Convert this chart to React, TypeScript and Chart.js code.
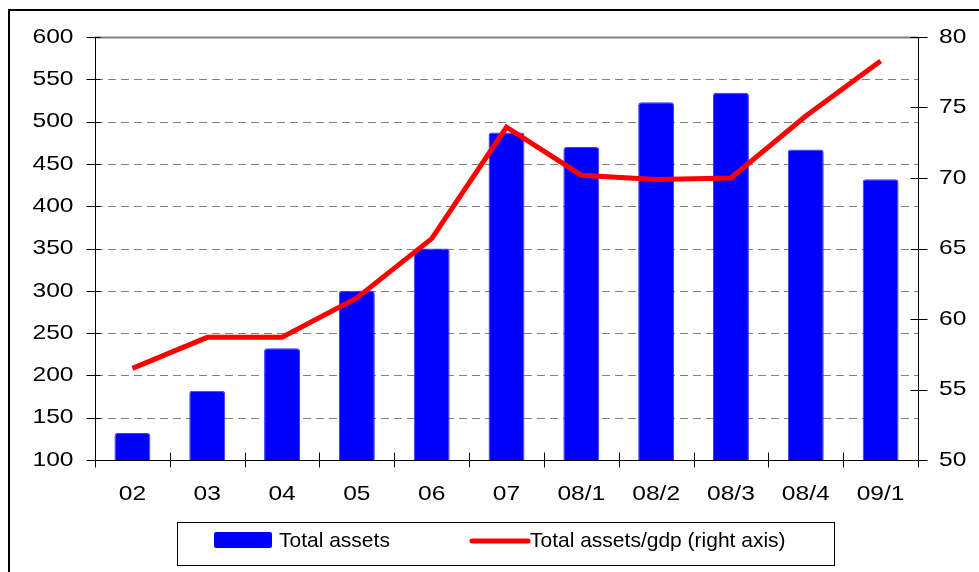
import React, { useEffect, useRef } from "react";
import { Chart, registerables } from "chart.js";

Chart.register(...registerables);

const categories = ["02", "03", "04", "05", "06", "07", "08/1", "08/2", "08/3", "08/4", "09/1"];
const totalAssets = [132, 182, 232, 300, 350, 487, 470, 523, 534, 467, 432];
const assetsToGdp = [56.5, 58.7, 58.7, 61.5, 65.7, 73.6, 70.2, 69.9, 70.0, 74.4, 78.3];
const leftTicks = { min: 100, max: 600, step: 50 };
const rightTicks = { min: 50, max: 80, step: 5 };
const legendLabels = ["Total assets", "Total assets/gdp (right axis)"];

const FONT = "'Liberation Sans', Arial, sans-serif";
const STRETCH = 1.17;

function stretchedText(ctx: CanvasRenderingContext2D, text: string, x: number, y: number, align: CanvasTextAlign) {
  ctx.save();
  ctx.translate(x, y);
  ctx.scale(STRETCH, 1);
  ctx.textAlign = align;
  ctx.textBaseline = "middle";
  ctx.fillText(text, 0, 0);
  ctx.restore();
}

const customDraw = {
  id: "customDraw",
  beforeDatasetsDraw(chart: any) {
    const { ctx, chartArea } = chart;
    const y = chart.scales.y;
    ctx.save();
    for (let v = leftTicks.min + leftTicks.step; v <= leftTicks.max; v += leftTicks.step) {
      const py = Math.round(y.getPixelForValue(v)) + 0.5;
      ctx.beginPath();
      ctx.strokeStyle = "#808080";
      if (v === leftTicks.max) {
        ctx.setLineDash([]);
        ctx.lineWidth = 2;
      } else {
        ctx.setLineDash([8, 5]);
        ctx.lineWidth = 1;
      }
      ctx.moveTo(chartArea.left, py);
      ctx.lineTo(chartArea.right, py);
      ctx.stroke();
    }
    ctx.restore();
  },
  afterDatasetsDraw(chart: any) {
    const { ctx, chartArea } = chart;
    const y = chart.scales.y;
    const y1 = chart.scales.y1;
    const x = chart.scales.x;
    ctx.save();
    ctx.setLineDash([]);
    ctx.strokeStyle = "#000";
    ctx.lineWidth = 1;
    const L = Math.round(chartArea.left) + 0.5;
    const R = Math.round(chartArea.right) + 0.5;
    const B = Math.round(chartArea.bottom) + 0.5;
    const T = Math.round(chartArea.top);
    ctx.beginPath();
    ctx.moveTo(L, T);
    ctx.lineTo(L, B);
    ctx.moveTo(R, T);
    ctx.lineTo(R, B);
    ctx.moveTo(L, B);
    ctx.lineTo(R, B);
    for (let v = leftTicks.min; v <= leftTicks.max; v += leftTicks.step) {
      const py = Math.round(y.getPixelForValue(v)) + 0.5;
      ctx.moveTo(L - 9, py);
      ctx.lineTo(L + 5, py);
    }
    for (let v = rightTicks.min; v <= rightTicks.max; v += rightTicks.step) {
      const py = Math.round(y1.getPixelForValue(v)) + 0.5;
      ctx.moveTo(R - 8, py);
      ctx.lineTo(R + 9, py);
    }
    const n = categories.length;
    const w = (chartArea.right - chartArea.left) / n;
    for (let i = 0; i <= n; i++) {
      const px = Math.round(chartArea.left + i * w) + 0.5;
      ctx.moveTo(px, B - 8);
      ctx.lineTo(px, B + 7);
    }
    ctx.stroke();

    // tick labels
    ctx.fillStyle = "#000";
    ctx.font = `21px ${FONT}`;
    for (let v = leftTicks.min; v <= leftTicks.max; v += leftTicks.step) {
      stretchedText(ctx, String(v), 73.5, y.getPixelForValue(v), "right");
    }
    for (let v = rightTicks.min; v <= rightTicks.max; v += rightTicks.step) {
      stretchedText(ctx, String(v), 939, y1.getPixelForValue(v), "left");
    }
    categories.forEach((c, i) => {
      stretchedText(ctx, c, x.getPixelForValue(i), 494, "center");
    });

    // outer frame
    ctx.lineWidth = 2;
    ctx.beginPath();
    ctx.moveTo(9, chart.height + 5);
    ctx.lineTo(9, 10);
    ctx.lineTo(chart.width + 5, 10);
    ctx.stroke();

    // legend
    ctx.lineWidth = 1;
    ctx.strokeStyle = "#000";
    ctx.strokeRect(177.5, 522.5, 657, 43);
    ctx.fillStyle = "#0000FF";
    ctx.beginPath();
    (ctx as any).roundRect ? (ctx as any).roundRect(214, 532, 58, 16, 2) : ctx.rect(214, 532, 58, 16);
    ctx.fill();
    ctx.strokeStyle = "#FF0000";
    ctx.lineWidth = 5;
    ctx.lineCap = "round";
    ctx.beginPath();
    ctx.moveTo(472, 541);
    ctx.lineTo(528, 541);
    ctx.stroke();
    ctx.fillStyle = "#000";
    ctx.font = `21px ${FONT}`;
    ctx.textBaseline = "middle";
    ctx.textAlign = "left";
    ctx.fillText(legendLabels[0], 279, 541);
    ctx.fillText(legendLabels[1], 530, 541);
    ctx.restore();
  },
};

export default function App() {
  const ref = useRef<HTMLCanvasElement | null>(null);
  useEffect(() => {
    document.body.style.margin = "0";
    document.body.style.overflow = "hidden";
    const chart = new Chart(ref.current as HTMLCanvasElement, {
      type: "bar",
      data: {
        labels: categories,
        datasets: [
          {
            type: "line",
            label: legendLabels[1],
            data: assetsToGdp,
            yAxisID: "y1",
            borderColor: "#FF0000",
            backgroundColor: "#FF0000",
            borderWidth: 5,
            pointRadius: 0,
            tension: 0,
            order: 0,
          } as any,
          {
            type: "bar",
            label: legendLabels[0],
            data: totalAssets,
            yAxisID: "y",
            backgroundColor: "#0000FF",
            borderColor: "#3A3AFF",
            borderWidth: 1,
            borderRadius: 3,
            borderSkipped: "bottom",
            barPercentage: 0.48,
            categoryPercentage: 1,
            order: 1,
          },
        ],
      },
      options: {
        animation: false,
        responsive: false,
        devicePixelRatio: 1,
        layout: { padding: { top: 37, left: 0, right: 0, bottom: 0 } },
        plugins: { legend: { display: false }, tooltip: { enabled: false }, title: { display: false } },
        scales: {
          x: {
            grid: { display: false },
            border: { display: false },
            ticks: { display: false },
            afterFit: (s: any) => {
              s.height = 112;
            },
          },
          y: {
            position: "left",
            min: leftTicks.min,
            max: leftTicks.max,
            grid: { display: false },
            border: { display: false },
            ticks: { display: false, stepSize: leftTicks.step },
            afterFit: (s: any) => {
              s.width = 95;
            },
          },
          y1: {
            position: "right",
            min: rightTicks.min,
            max: rightTicks.max,
            grid: { display: false },
            border: { display: false },
            ticks: { display: false, stepSize: rightTicks.step },
            afterFit: (s: any) => {
              s.width = 61;
            },
          },
        },
      },
      plugins: [customDraw],
    });
    return () => chart.destroy();
  }, []);
  return (
    <div style={{ position: "fixed", left: 0, top: 0, width: 979, height: 572, background: "#fff" }}>
      <canvas ref={ref} width={979} height={572} style={{ display: "block", width: 979, height: 572 }} />
    </div>
  );
}
